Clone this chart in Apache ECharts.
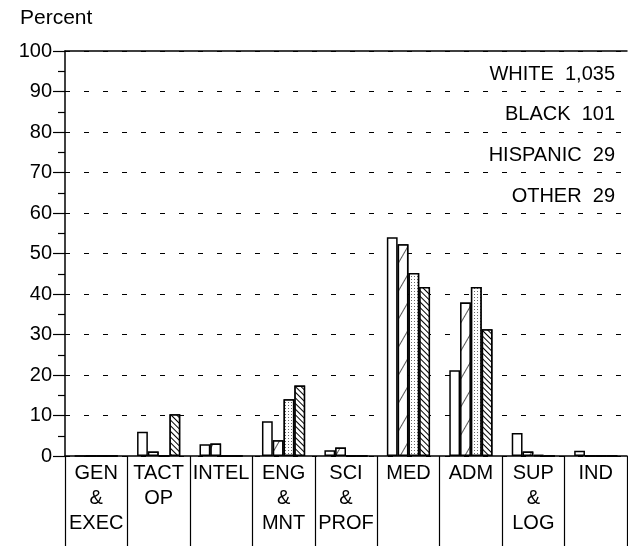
<!DOCTYPE html>
<html><head><meta charset="utf-8">
<script src="https://cdn.jsdelivr.net/npm/echarts@6/dist/echarts.min.js"></script>
<style>html,body{margin:0;padding:0;background:#fff}#c{width:628px;height:546px}</style>
</head><body><div id="c"></div>
<script>
const categories = ['GEN\n&\nEXEC', 'TACT\nOP', 'INTEL', 'ENG\n&\nMNT', 'SCI\n&\nPROF', 'MED', 'ADM', 'SUP\n&\nLOG', 'IND'];
const seriesNames = ['WHITE  1,035', 'BLACK  101', 'HISPANIC  29', 'OTHER  29'];
const white    = [0, 6.0, 2.9, 8.6, 1.4, 54.0, 21.2, 5.7, 1.3];
const black    = [0, 1.1, 3.1, 3.9, 2.1, 52.3, 37.9, 1.1, 0];
const hispanic = [0, 0, 0, 14.0, 0, 45.2, 41.7, 0.3, 0];
const other    = [0, 10.3, 0, 17.4, 0, 41.7, 31.3, 0, 0];
const yTicks = [0, 10, 20, 30, 40, 50, 60, 70, 80, 90, 100];

const FONT = "'Liberation Sans', Arial, Helvetica, sans-serif";
const decals = [
  null,
  {symbol: 'rect', symbolSize: 1, color: '#555', backgroundColor: '#fff', dashArrayX: [1, 0], dashArrayY: [1, 13], rotation: -Math.PI / 3},
  {symbol: 'rect', symbolSize: 1, color: '#666', backgroundColor: '#fff', dashArrayX: [1, 2], dashArrayY: [1, 2], rotation: 0},
  {symbol: 'rect', symbolSize: 1, color: '#000', backgroundColor: '#fff', dashArrayX: [1, 0], dashArrayY: [1, 2.5], rotation: Math.PI / 4}
];
const values = [white, black, hispanic, other];

const chart = echarts.init(document.getElementById('c'), null, {renderer: 'canvas'});
chart.setOption({
  animation: false,
  backgroundColor: '#fff',
  textStyle: {fontFamily: FONT},
  title: {text: 'Percent', left: 15, top: 3, textStyle: {fontFamily: FONT, fontSize: 21, fontWeight: 'normal', color: '#000'}},
  legend: {
    data: seriesNames, orient: 'vertical', right: 3, top: 59, align: 'right',
    icon: 'none', itemWidth: 0, itemHeight: 20, itemGap: 20.7, selectedMode: false,
    textStyle: {fontFamily: FONT, fontSize: 20, color: '#000', lineHeight: 20}
  },
  grid: {left: 65, right: 1, top: 51, bottom: 90},
  xAxis: [{
    type: 'category', data: categories, position: 'bottom',
    axisLine: {lineStyle: {color: '#000', width: 1.5}},
    axisTick: {show: true, length: 92, lineStyle: {color: '#000', width: 1.2}},
    axisLabel: {color: '#000', fontSize: 20, fontFamily: FONT, lineHeight: 25, margin: 5, interval: 0, verticalAlign: 'top'}
  }, {
    type: 'category', data: categories, position: 'top',
    axisLine: {lineStyle: {color: '#000', width: 1.5}},
    axisTick: {show: false}, axisLabel: {show: false}
  }],
  yAxis: {
    type: 'value', min: yTicks[0], max: yTicks[yTicks.length - 1], interval: 10,
    axisLine: {show: true, lineStyle: {color: '#000', width: 1.5}},
    axisTick: {show: true, length: 12, lineStyle: {color: '#000', width: 1.2}},
    minorTick: {show: true, splitNumber: 2, length: 7, lineStyle: {color: '#000', width: 1.2}},
    axisLabel: {color: '#000', fontSize: 20, fontFamily: FONT, margin: 13,
      formatter: v => yTicks.includes(v) ? String(v) : ''},
    splitLine: {show: true, lineStyle: {color: '#000', width: 1.2, type: [5, 14]}}
  },
  series: seriesNames.map((n, i) => ({
    name: n, type: 'bar', data: values[i], barWidth: 10.8, barGap: '0%',
    itemStyle: {color: '#fff', borderColor: '#000', borderWidth: 1.5, decal: decals[i] || undefined}
  }))
});
</script></body></html>
